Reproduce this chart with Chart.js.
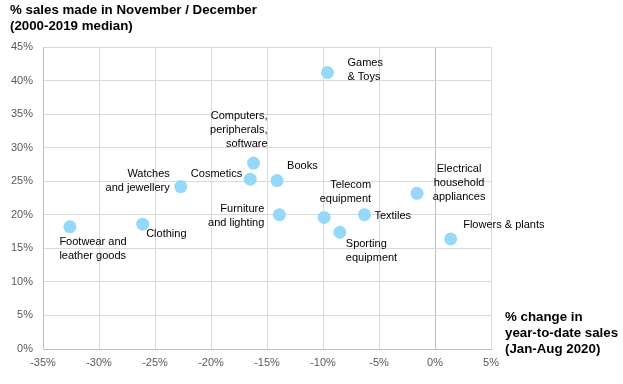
<!DOCTYPE html>
<html>
<head>
<meta charset="utf-8">
<script src="https://cdn.jsdelivr.net/npm/chart.js@4"></script>
<style>
  html, body { margin: 0; padding: 0; background: #fff; }
  #wrap { width: 623px; height: 384px; }
</style>
</head>
<body>
<div id="wrap"><canvas id="chart" width="623" height="384"></canvas></div>
<script>
// Данные: категории и значения
const categories = [
  ['Games', '& Toys'],
  ['Computers,', 'peripherals,', 'software'],
  ['Cosmetics'],
  ['Books'],
  ['Watches', 'and jewellery'],
  ['Footwear and', 'leather goods'],
  ['Clothing'],
  ['Furniture', 'and lighting'],
  ['Telecom', 'equipment'],
  ['Textiles'],
  ['Sporting', 'equipment'],
  ['Electrical', 'household', 'appliances'],
  ['Flowers & plants']
];
// % change in year-to-date sales (Jan-Aug 2020)
const ytdChange = [-9.6, -16.2, -16.5, -14.1, -22.7, -32.6, -26.1, -13.9, -9.9, -6.3, -8.5, -1.6, 1.4];
// % sales made in November / December
const novDecShare = [41.2, 27.7, 25.3, 25.1, 24.2, 18.2, 18.6, 20.0, 19.6, 20.0, 17.4, 23.2, 16.4];

const xTicks = [-35, -30, -25, -20, -15, -10, -5, 0, 5];
const yTicks = [0, 5, 10, 15, 20, 25, 30, 35, 40, 45];

const yTitle = ['% sales made in November / December', '(2000-2019 median)'];
const xTitle = ['% change in', 'year-to-date sales', '(Jan-Aug 2020)'];

// размещение подписей относительно точки: [dx, dy первой строки, выравнивание]
const labelPlace = [
  [20, -10, 'left'],
  [14, -47.5, 'right'],
  [-8, -5, 'right'],
  [10, -14.5, 'left'],
  [-11, -13, 'right'],
  [-10.5, 15, 'left'],
  [3.5, 10, 'left'],
  [-15, -5.5, 'right'],
  [47, -32, 'right'],
  [10, 1, 'left'],
  [6, 12, 'left'],
  [42, -24, 'center'],
  [12.5, -13.5, 'left']
];

const FONT = '"Liberation Sans", Arial, sans-serif';

const labelsPlugin = {
  id: 'pointLabels',
  afterDatasetsDraw(chart) {
    const ctx = chart.ctx;
    const meta = chart.getDatasetMeta(0);
    ctx.save();
    ctx.fillStyle = '#000';
    ctx.font = '11px ' + FONT;
    ctx.textBaseline = 'middle';
    meta.data.forEach((pt, i) => {
      const [dx, dy, align] = labelPlace[i];
      ctx.textAlign = align;
      categories[i].forEach((line, j) => {
        ctx.fillText(line, pt.x + dx, pt.y + dy + j * 14);
      });
    });
    // заголовки осей
    ctx.font = 'bold 13.3px ' + FONT;
    ctx.textAlign = 'left';
    yTitle.forEach((line, j) => ctx.fillText(line, 10, 10 + j * 16.5));
    xTitle.forEach((line, j) => ctx.fillText(line, 505, 317 + j * 16.2));
    ctx.restore();
  }
};

new Chart(document.getElementById('chart').getContext('2d'), {
  type: 'scatter',
  data: {
    datasets: [{
      data: ytdChange.map((x, i) => ({ x: x, y: novDecShare[i] })),
      backgroundColor: 'rgb(150, 216, 249)',
      borderWidth: 0,
      pointRadius: 6.5,
      pointHoverRadius: 6.5
    }]
  },
  options: {
    responsive: false,
    animation: false,
    events: [],
    layout: { padding: { top: 47, right: 132, left: 0, bottom: 0 } },
    plugins: { legend: { display: false }, tooltip: { enabled: false } },
    scales: {
      x: {
        type: 'linear',
        min: -35, max: 5,
        afterBuildTicks: s => { s.ticks = xTicks.map(v => ({ value: v })); },
        afterFit: s => { s.height = 35; },
        ticks: {
          callback: v => v + '%',
          color: '#595959',
          font: { size: 11, family: FONT },
          padding: 7,
          maxRotation: 0
        },
        grid: {
          drawTicks: false,
          color: c => c.tick && c.tick.value === 0 ? '#bfbfbf' : '#d9d9d9',
          lineWidth: 1
        },
        border: { color: '#bfbfbf' }
      },
      y: {
        type: 'linear',
        min: 0, max: 45,
        afterBuildTicks: s => { s.ticks = yTicks.map(v => ({ value: v })); },
        afterFit: s => { s.width = 43; },
        ticks: {
          callback: v => v + '%',
          color: '#595959',
          font: { size: 11, family: FONT },
          padding: 10
        },
        grid: { drawTicks: false, color: '#d9d9d9', lineWidth: 1 },
        border: { color: '#bfbfbf' }
      }
    }
  },
  plugins: [labelsPlugin]
});
</script>
</body>
</html>
